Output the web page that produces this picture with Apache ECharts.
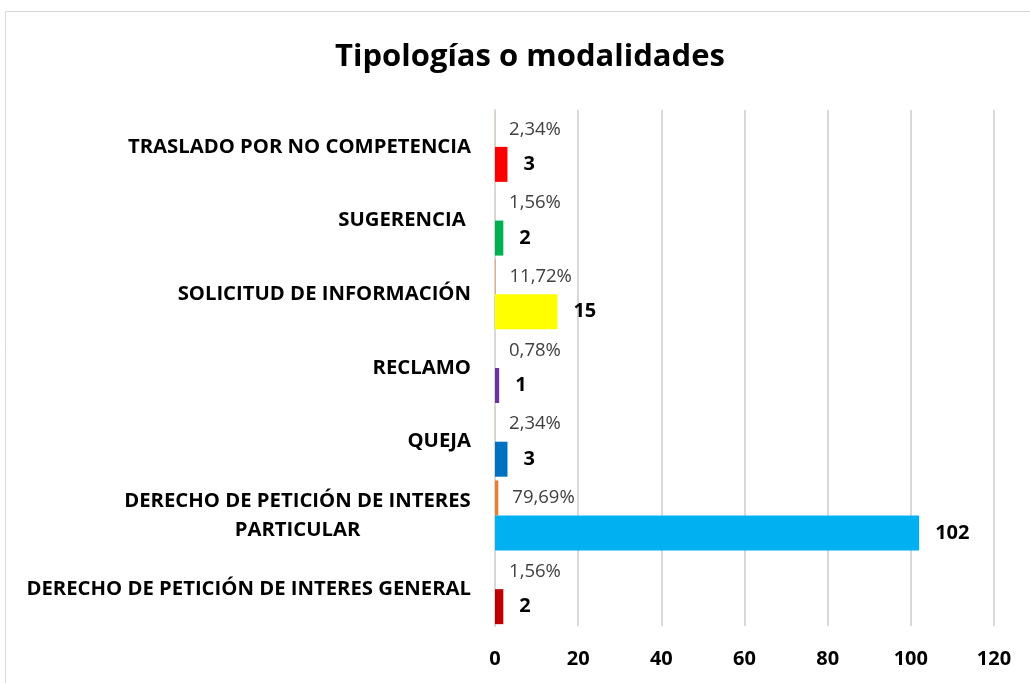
<!DOCTYPE html>
<html>
<head>
<meta charset="utf-8">
<script src="https://cdn.jsdelivr.net/npm/echarts@6/dist/echarts.min.js"></script>
<style>
  html, body { margin: 0; padding: 0; background: #fff; }
  #chart { width: 1030px; height: 683px; }
</style>
</head>
<body>
<div id="chart"></div>
<script>
// bottom to top, as the value axis draws them
const categories = [
  'DERECHO DE PETICIÓN DE INTERES GENERAL',
  'DERECHO DE PETICIÓN DE INTERES\nPARTICULAR',
  'QUEJA',
  'RECLAMO',
  'SOLICITUD DE INFORMACIÓN',
  'SUGERENCIA ',
  'TRASLADO POR NO COMPETENCIA'
];
const counts = [2, 102, 3, 1, 15, 2, 3];
const shares = [0.0156, 0.7969, 0.0234, 0.0078, 0.1172, 0.0156, 0.0234];
const barColors = ['#C00000', '#00B0F0', '#0070C0', '#7030A0', '#FFFF00', '#00B050', '#FF0000'];
const xTicks = [0, 20, 40, 60, 80, 100, 120];

const fontFam = '"Open Sans", sans-serif';
const catFontSize = 20.3;

// width of the widest line of the wrapped label, so its lines centre on each other
const ctx = document.createElement('canvas').getContext('2d');
ctx.font = 'bold ' + catFontSize + 'px ' + fontFam;
const wrapWidth = Math.ceil(Math.max(...categories[1].split('\n').map(s => ctx.measureText(s).width)));

const chart = echarts.init(document.getElementById('chart'));

chart.setOption({
  animation: false,
  title: {
    text: 'Tipologías o modalidades',
    left: 330,
    top: 37,
    textStyle: { fontFamily: fontFam, fontSize: 31, fontWeight: 'bold', color: '#000' }
  },
  graphic: [{
    type: 'rect',
    shape: { x: 5.5, y: 11.5, width: 1040, height: 700 },
    style: { fill: 'none', stroke: '#D9D9D9', lineWidth: 1 },
    silent: true
  }],
  grid: { left: 495, right: 36, top: 110, bottom: 57 },
  xAxis: {
    type: 'value',
    min: xTicks[0],
    max: xTicks[xTicks.length - 1],
    interval: 20,
    axisLine: { show: false },
    axisTick: { show: false },
    splitLine: { lineStyle: { color: '#D9D9D9', width: 2 } },
    axisLabel: {
      margin: 23,
      fontFamily: fontFam,
      fontSize: 20,
      fontWeight: 'bold',
      color: '#000'
    }
  },
  yAxis: {
    type: 'category',
    data: categories,
    axisLine: { lineStyle: { color: '#D9D9D9', width: 2 } },
    axisTick: { show: false },
    axisLabel: {
      margin: 24,
      fontFamily: fontFam,
      fontSize: catFontSize,
      fontWeight: 'bold',
      color: '#000',
      lineHeight: 29,
      formatter: function (v) {
        if (v.indexOf('\n') >= 0) return '{c|' + v + '}';
        return v;
      },
      rich: {
        c: {
          width: wrapWidth,
          align: 'center',
          fontFamily: fontFam,
          fontSize: catFontSize,
          fontWeight: 'bold',
          color: '#000',
          lineHeight: 29
        }
      }
    }
  },
  series: [
    {
      name: 'Porcentaje',
      type: 'bar',
      data: shares,
      barWidth: 35,
      barGap: '0%',
      itemStyle: { color: '#ED7D31' },
      label: {
        show: true,
        position: 'right',
        distance: 14,
        fontFamily: fontFam,
        fontSize: 18.5,
        color: '#404040',
        formatter: p => (p.value * 100).toFixed(2).replace('.', ',') + '%'
      }
    },
    {
      name: 'Cantidad',
      type: 'bar',
      data: counts.map((v, i) => ({ value: v, itemStyle: { color: barColors[i] } })),
      barWidth: 35,
      barGap: '0%',
      label: {
        show: true,
        position: 'right',
        distance: 16,
        fontFamily: fontFam,
        fontSize: 20,
        fontWeight: 'bold',
        color: '#000'
      }
    }
  ]
});
</script>
</body>
</html>
